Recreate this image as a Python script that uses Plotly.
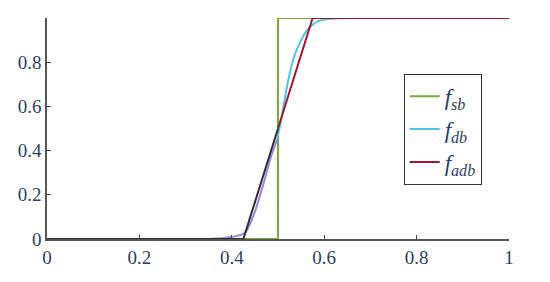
import plotly.graph_objects as go

# f_sb: sharp step
sb_x = [0.0, 0.5, 0.5, 1.0]
sb_y = [0.0, 0.0, 1.0, 1.0]

# f_db: smooth transition
db_x = [0.0, 0.35, 0.399, 0.428, 0.449, 0.471, 0.485, 0.498, 0.507, 0.521, 0.535, 0.55, 0.564, 0.586, 0.62, 0.65, 1.0]
db_y = [0.0, 0.0, 0.009, 0.027, 0.118, 0.268, 0.374, 0.449, 0.54, 0.706, 0.826, 0.90, 0.947, 0.985, 0.997, 1.0, 1.0]

# f_adb: piecewise linear
adb_x = [0.0, 0.425, 0.5, 0.575, 1.0]
adb_y = [0.0, 0.0, 0.5, 1.0, 1.0]

ticks = [0, 0.2, 0.4, 0.6, 0.8, 1]
tick_text = ["0", "0.2", "0.4", "0.6", "0.8", "1"]

GREEN = "#77ac30"
CYAN = "#4cc3e8"
PURPLE = "#8c8ce8"
RED = "#a2142f"
DARK = "#3a2b28"

def split(xs, ys, yc, below):
    ox, oy = [], []
    for x, y in zip(xs, ys):
        if (y <= yc) == below or y == yc:
            ox.append(x); oy.append(y)
    return ox, oy

db_lo = split(db_x, db_y, 0.449, True)
db_hi = split(db_x, db_y, 0.449, False)
adb_lo = split(adb_x, adb_y, 0.5, True)
adb_hi = split(adb_x, adb_y, 0.5, False)

fig = go.Figure()
fig.add_trace(go.Scatter(x=sb_x, y=sb_y, mode="lines", line=dict(color=GREEN, width=2),
                         name="<i>f</i><sub><i>sb</i></sub>"))
fig.add_trace(go.Scatter(x=db_lo[0], y=db_lo[1], mode="lines",
                         line=dict(color=PURPLE, width=2, shape="spline", smoothing=0.8),
                         showlegend=False))
fig.add_trace(go.Scatter(x=db_hi[0], y=db_hi[1], mode="lines",
                         line=dict(color=CYAN, width=2, shape="spline", smoothing=0.8),
                         name="<i>f</i><sub><i>db</i></sub>"))
fig.add_trace(go.Scatter(x=adb_lo[0], y=adb_lo[1], mode="lines", line=dict(color=DARK, width=2),
                         showlegend=False))
fig.add_trace(go.Scatter(x=adb_hi[0], y=adb_hi[1], mode="lines", line=dict(color=RED, width=2),
                         name="<i>f</i><sub><i>adb</i></sub>"))

fig.update_layout(
    width=542, height=274,
    margin=dict(l=36, r=41, t=10, b=43),
    paper_bgcolor="white", plot_bgcolor="white",
    showlegend=True,
    legend=dict(x=0.772, y=0.748, xanchor="left", yanchor="top",
                bordercolor="#333", borderwidth=1,
                font=dict(family="Times New Roman", size=23)),
    xaxis=dict(tickvals=ticks, ticktext=tick_text,
               ticks="inside", ticklen=4, tickcolor="#444",
               showline=True, linecolor="#555", linewidth=1.5,
               range=[0, 1],
               tickfont=dict(family="serif", size=19)),
    yaxis=dict(tickvals=ticks, ticktext=tick_text,
               ticks="inside", ticklen=4, tickcolor="#444",
               showline=True, linecolor="#555", linewidth=1.5,
               range=[0, 1],
               tickfont=dict(family="Times New Roman", size=19)),
)

fig.write_html("out.html")
